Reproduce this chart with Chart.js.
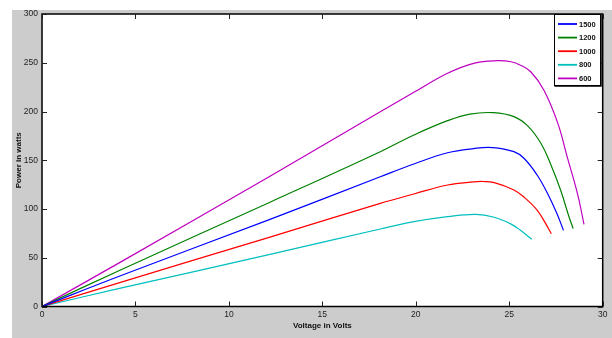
<!DOCTYPE html>
<html>
<head>
<meta charset="utf-8">
<script src="https://cdn.jsdelivr.net/npm/chart.js@4/dist/chart.umd.min.js"></script>
<style>
  html,body{margin:0;padding:0;background:#fff;}
  #wrap{width:612px;height:338px;}
</style>
</head>
<body>
<div id="wrap"><canvas id="pvChart" width="612" height="338"></canvas></div>
<script>
// series labels as shown in the legend (top to bottom)
const seriesLabels = ['1500','1200','1000','800','600'];
const seriesColors = ['#0000ff','#008000','#ff0000','#00bfbf','#bf00bf'];

// voltage (V) / power (W)
const volt1500 = [0, 4.2, 12.2, 18.1, 19.9, 21.7, 23.1, 24.1, 25.25, 25.8, 26.5, 27.05, 27.55, 27.9];
const pow1500  = [0, 31.5, 89.4, 133.1, 146.2, 157.7, 162.0, 163.0, 158.8, 151.8, 134.6, 115.8, 95.3, 78.1];

const volt1200 = [0, 4.2, 12.2, 18.1, 19.9, 21.7, 22.9, 24.15, 25.25, 26.0, 26.7, 27.2, 27.75, 28.2, 28.42];
const pow1200  = [0, 37.5, 107, 158.8, 175.9, 190.6, 197.4, 198.8, 194.7, 185, 167.2, 146.7, 119.2, 91.8, 80];

const volt1000 = [0, 4.2, 12.2, 18.1, 19.9, 21.7, 23.1, 23.6, 24.2, 25.25, 25.8, 26.5, 26.95, 27.25];
const pow1000  = [0, 24.8, 71.2, 105.8, 115.4, 124.6, 127.8, 128.2, 127, 119.5, 112, 98.7, 85, 74.7];

const volt800 = [0, 4.2, 12.2, 18.1, 19.9, 21.7, 23.2, 24.2, 25.1, 25.6, 26.2];
const pow800  = [0, 18.8, 53.4, 79.5, 87, 92.1, 94.5, 91.5, 84.5, 78.1, 68.9];

const volt600 = [0, 4.2, 12.2, 18.1, 19.9, 21.7, 23.1, 24.35, 25.1, 25.6, 26.15, 26.85, 27.6, 28.1, 28.65, 29.0];
const pow600  = [0, 45.5, 133.6, 199.8, 219.7, 239.2, 249.4, 252.1, 251, 247.5, 240.8, 222, 187.8, 153.4, 115.8, 84.3];

const xTicks = [0,5,10,15,20,25,30];
const yTicks = [0,50,100,150,200,250,300];

function pts(vs, ps){ return vs.map((v,i)=>({x:v, y:ps[i]})); }
const seriesData = [pts(volt1500,pow1500), pts(volt1200,pow1200), pts(volt1000,pow1000), pts(volt800,pow800), pts(volt600,pow600)];

const frame = {
  id:'frame',
  beforeDraw(chart){
    const c = chart.ctx, a = chart.chartArea;
    c.save();
    c.fillStyle = '#fff';
    c.fillRect(0,0,chart.width,chart.height);
    c.fillStyle = '#cccccc';
    c.fillRect(12,10,chart.width-12,chart.height-10);
    c.fillStyle = '#fff';
    c.fillRect(a.left,a.top,a.right-a.left,a.bottom-a.top);
    c.restore();
  },
  afterDraw(chart){
    const c = chart.ctx, a = chart.chartArea;
    const xs = chart.scales.x, ys = chart.scales.y;
    c.save();
    c.strokeStyle = '#000';
    c.lineWidth = 1.5;
    c.strokeRect(a.left,a.top,a.right-a.left,a.bottom-a.top);
    // inward ticks on all four sides
    c.lineWidth = 1;
    c.strokeStyle = '#222';
    c.beginPath();
    for(const t of xTicks){
      const px = Math.round(xs.getPixelForValue(t))+0.5;
      c.moveTo(px,a.bottom); c.lineTo(px,a.bottom-5);
      c.moveTo(px,a.top); c.lineTo(px,a.top+5);
    }
    for(const t of yTicks){
      const py = Math.round(ys.getPixelForValue(t))+0.5;
      c.moveTo(a.left,py); c.lineTo(a.left+5,py);
      c.moveTo(a.right,py); c.lineTo(a.right-5,py);
    }
    c.stroke();

    // legend box
    const bx = 554.5, by = 14.5, bw = 46, bh = 71;
    c.fillStyle = '#fff';
    c.fillRect(bx,by,bw,bh);
    c.strokeStyle = '#000';
    c.lineWidth = 1;
    c.strokeRect(bx,by,bw,bh);
    c.lineWidth = 1.5;
    c.beginPath();
    c.moveTo(bx+bw+0.5,by); c.lineTo(bx+bw+0.5,by+bh+0.5); c.lineTo(bx,by+bh+0.5);
    c.stroke();
    c.font = 'bold 7.5px "Liberation Sans", Arial, sans-serif';
    c.textBaseline = 'middle';
    c.textAlign = 'left';
    chart.data.datasets.forEach((ds,i)=>{
      const y = 24 + i*13.6;
      c.strokeStyle = ds.borderColor;
      c.lineWidth = 1.8;
      c.beginPath(); c.moveTo(558,y); c.lineTo(577,y); c.stroke();
      c.fillStyle = '#111';
      c.fillText(ds.label,579,y+0.5);
    });
    c.restore();
  }
};

const tickFont = {family:'"Liberation Sans", Arial, sans-serif', size:8.5};
const titleFont = {family:'"Liberation Sans", Arial, sans-serif', size:8, weight:'bold'};

new Chart(document.getElementById('pvChart').getContext('2d'), {
  type:'scatter',
  data:{
    datasets: seriesLabels.map((lab,i)=>({
      label: lab,
      data: seriesData[i],
      showLine: true,
      borderColor: seriesColors[i],
      backgroundColor: seriesColors[i],
      borderWidth: 1.2,
      pointRadius: 0,
      tension: 0.4,
      fill: false
    }))
  },
  options:{
    responsive:false,
    animation:false,
    layout:{padding:{top:14,right:9.3,left:0,bottom:0}},
    plugins:{legend:{display:false}, tooltip:{enabled:false}},
    scales:{
      x:{
        type:'linear', min:0, max:30,
        afterBuildTicks(s){ s.ticks = xTicks.map(v=>({value:v})); },
        ticks:{font:tickFont, color:'#222', padding:3, maxRotation:0},
        grid:{display:false, drawTicks:false},
        border:{display:false},
        title:{display:true, text:'Voltage in Volts', font:titleFont, color:'#111', padding:{top:0,bottom:7.2}},
        afterFit(s){ s.height = 31.5; }
      },
      y:{
        min:0, max:300,
        afterBuildTicks(s){ s.ticks = yTicks.map(v=>({value:v})); },
        ticks:{font:tickFont, color:'#222', padding:4},
        grid:{display:false, drawTicks:false},
        border:{display:false},
        title:{display:true, text:'Power in watts', font:titleFont, color:'#111', padding:{top:14.2,bottom:0}},
        afterFit(s){ s.width = 42; }
      }
    }
  },
  plugins:[frame]
});
</script>
</body>
</html>
